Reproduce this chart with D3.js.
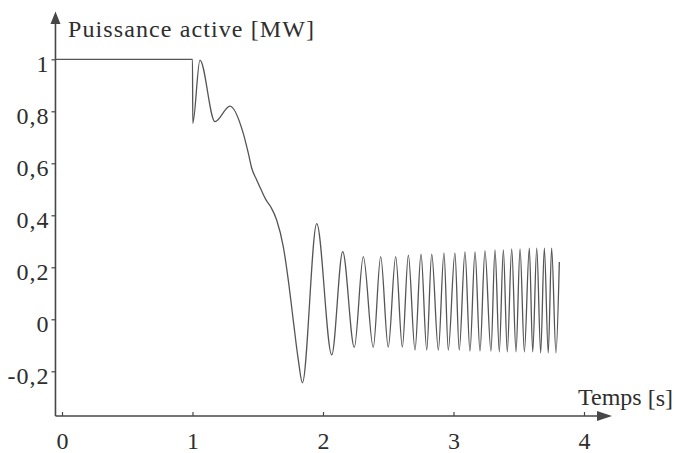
<!DOCTYPE html>
<html>
<head>
<meta charset="utf-8">
<script src="https://cdn.jsdelivr.net/npm/d3@7"></script>
</head>
<body style="margin:0">
<div id="chart"></div>
<script>
// temps [s] et puissance active [MW]
var time = [-0.05, 1.0, 1.002, 1.057, 1.172, 1.287,
  1.389, 1.428, 1.454, 1.492, 1.527, 1.560, 1.600, 1.645, 1.696, 1.734, 1.772, 1.811, 1.842,
  1.952, 2.067, 2.151, 2.240, 2.309, 2.385, 2.442, 2.500, 2.557, 2.608,
  2.654, 2.705, 2.751, 2.795, 2.833, 2.884, 2.927, 2.960, 3.011, 3.044,
  3.088, 3.126, 3.165, 3.203, 3.241, 3.287, 3.318, 3.351, 3.382, 3.412,
  3.446, 3.479, 3.510, 3.543, 3.581, 3.607, 3.638, 3.668, 3.696, 3.726,
  3.752, 3.785, 3.811];
var power = [1.0, 1.0, 0.754, 0.997, 0.76, 0.82,
  0.715, 0.638, 0.581, 0.536, 0.497, 0.462, 0.432, 0.382, 0.279, 0.151, -0.003, -0.157, -0.244,
  0.368, -0.137, 0.26, -0.108, 0.241, -0.108, 0.241, -0.107, 0.241, -0.107,
  0.247, -0.118, 0.251, -0.118, 0.251, -0.118, 0.255, -0.118, 0.255, -0.118,
  0.259, -0.122, 0.259, -0.122, 0.263, -0.122, 0.267, -0.125, 0.267, -0.125,
  0.271, -0.125, 0.271, -0.125, 0.274, -0.125, 0.274, -0.129, 0.274, -0.129,
  0.274, -0.129, 0.22];

var xTicks = [0, 1, 2, 3, 4],
    yTicks = [-0.2, 0, 0.2, 0.4, 0.6, 0.8, 1],
    yTickLabels = ["-0,2", "0", "0,2", "0,4", "0,6", "0,8", "1"];

var yTitle = "Puissance active [MW]",
    xTitle = "Temps",
    xUnit = "[s]";

var width = 679, height = 453,
    axisColor = "#474747",
    lineColor = "#555",
    textColor = "#2e2e2e";

var x = d3.scaleLinear().domain([0, 4]).range([62, 584]);
var y = d3.scaleLinear().domain([-0.2, 1]).range([371.3, 59.3]);

var svg = d3.select("#chart").append("svg")
    .attr("width", width)
    .attr("height", height);

var x0 = x(time[0]),   // position de l'axe vertical
    yBase = 416;       // position de l'axe horizontal

// axes
var yAxis = svg.append("g")
    .attr("transform", "translate(" + x0 + ",0)")
    .call(d3.axisLeft(y).tickValues(yTicks)
      .tickFormat(function(d, i) { return yTickLabels[i]; })
      .tickSize(4).tickPadding(2));
yAxis.select(".domain").remove();
yAxis.selectAll("line").attr("stroke", axisColor).attr("stroke-width", 1.2);
yAxis.selectAll("text")
    .attr("dy", "0.5em")
    .attr("font-family", "Liberation Serif")
    .attr("font-size", 24)
    .attr("letter-spacing", 1)
    .attr("fill", textColor);

var xAxis = svg.append("g")
    .attr("transform", "translate(0," + yBase + ")")
    .call(d3.axisBottom(x).tickValues(xTicks)
      .tickFormat(d3.format("d"))
      .tickSize(-4).tickPadding(16));
xAxis.select(".domain").remove();
xAxis.selectAll("line").attr("stroke", axisColor).attr("stroke-width", 1.2);
xAxis.selectAll("text")
    .attr("font-family", "Liberation Serif")
    .attr("font-size", 24)
    .attr("fill", textColor);

// lignes d'axes avec flèches
svg.append("line")
    .attr("x1", x0).attr("y1", yBase)
    .attr("x2", x0).attr("y2", 22)
    .attr("stroke", axisColor).attr("stroke-width", 1.6);
svg.append("path")
    .attr("d", "M" + x0 + ",11.5L" + (x0 - 5) + ",24L" + (x0 + 5) + ",24Z")
    .attr("fill", axisColor);

svg.append("line")
    .attr("x1", x0).attr("y1", yBase)
    .attr("x2", 600).attr("y2", yBase)
    .attr("stroke", axisColor).attr("stroke-width", 1.6);
svg.append("path")
    .attr("d", "M612," + yBase + "L597," + (yBase - 5) + "L597," + (yBase + 5) + "Z")
    .attr("fill", axisColor);

// titres
svg.append("text")
    .attr("x", 68).attr("y", 37)
    .attr("font-family", "Liberation Serif")
    .attr("font-size", 24)
    .attr("letter-spacing", 1.1)
    .attr("fill", textColor)
    .text(yTitle);

var xt = svg.append("text")
    .attr("x", 578).attr("y", 405)
    .attr("font-family", "Liberation Serif")
    .attr("font-size", 24)
    .attr("fill", textColor);
xt.append("tspan").text(xTitle);
xt.append("tspan").attr("dx", 6).attr("dy", 1).text(xUnit);

// courbe
var line = d3.line()
    .x(function(d) { return x(d[0]); })
    .y(function(d) { return y(d[1]); })
    .curve(d3.curveMonotoneX);

svg.append("path")
    .datum(d3.zip(time, power))
    .attr("fill", "none")
    .attr("stroke", lineColor)
    .attr("stroke-width", 1.3)
    .attr("stroke-linejoin", "round")
    .attr("d", line);
</script>
</body>
</html>
